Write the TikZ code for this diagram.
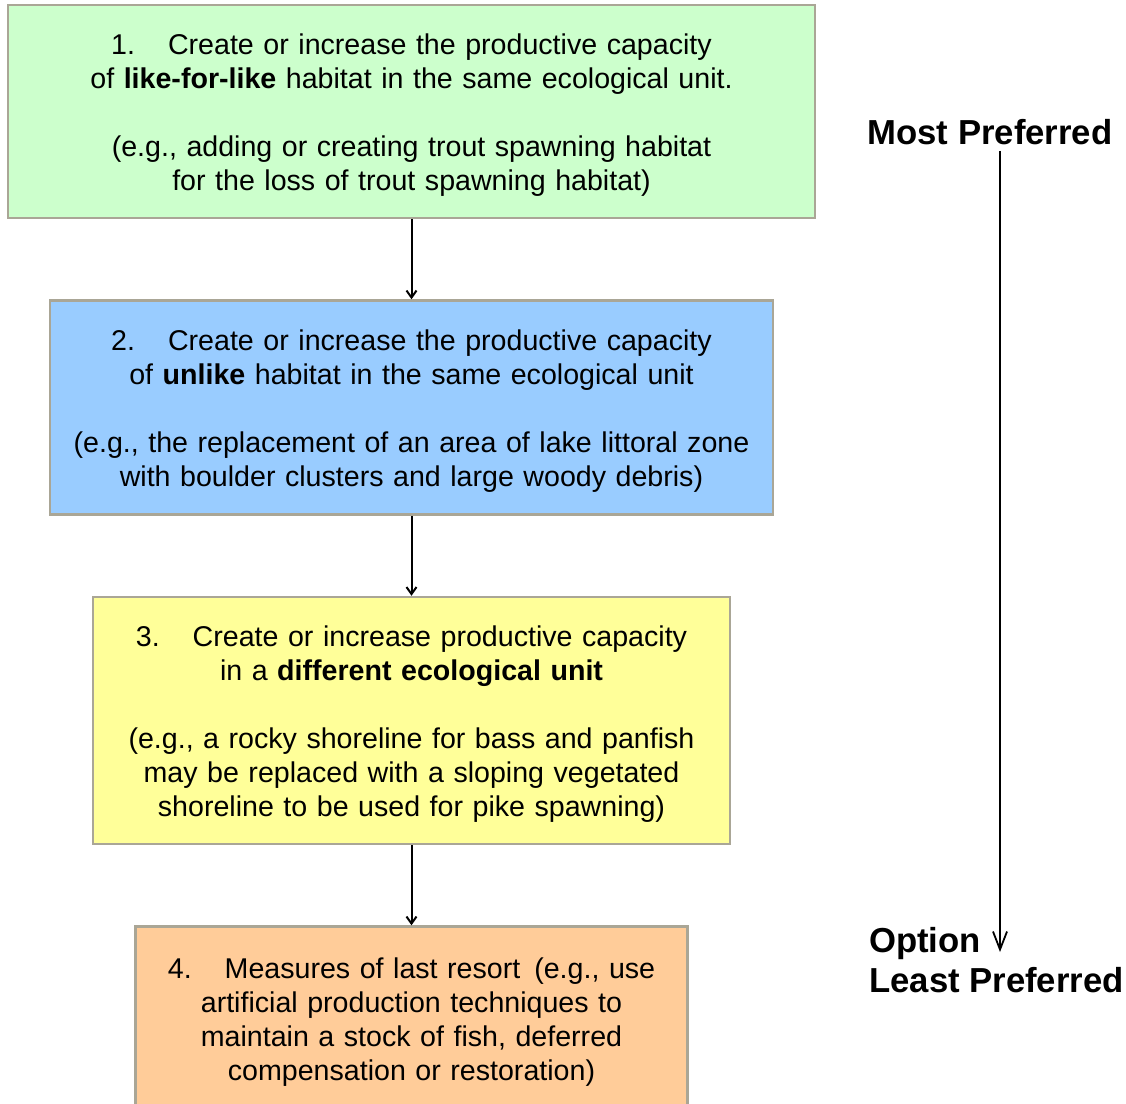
\documentclass[tikz,border=0pt]{standalone}
\usepackage{fontspec}
\setmainfont{Liberation Sans}
\usetikzlibrary{positioning, arrows.meta}

\definecolor{likegreen}{HTML}{CCFFCC}
\definecolor{unlikeblue}{HTML}{99CCFF}
\definecolor{diffyellow}{HTML}{FFFF99}
\definecolor{lastorange}{HTML}{FFCC99}
\definecolor{boxedge}{RGB}{170,166,150}

\begin{document}
\begin{tikzpicture}[x=1pt, y=-1pt, node distance=80pt]

	\tikzstyle{optbox}=[draw=boxedge, line width=2.5pt, inner sep=0pt, align=center,
		font=\fontsize{28.6pt}{34pt}\selectfont]
	\tikzstyle{flow}=[-{Straight Barb[length=7pt, width=10pt]}, line width=2pt]
	\tikzstyle{pref}=[-{Straight Barb[length=18pt, width=14pt]}, line width=1.8pt]
	\tikzstyle{preflabel}=[font=\fontsize{34.7pt}{40pt}\selectfont\bfseries, inner sep=0pt]

	\useasboundingbox (0,0) rectangle (1126,1103);

	\node[optbox, fill=likegreen, text width=807pt, minimum height=213pt] (like) at (411.5,111.5)
		{\rule{0pt}{28pt}1.\hspace{33pt}Create or increase the productive capacity\\
		 of \textbf{like-for-like} habitat in the same ecological unit.\\[34pt]
		 (e.g., adding or creating trout spawning habitat\\
		 for the loss of trout spawning habitat)};

	\node[optbox, fill=unlikeblue, text width=723pt, minimum height=214pt, below=of like] (unlike)
		{\rule{0pt}{28pt}2.\hspace{33pt}Create or increase the productive capacity\\
		 of \textbf{unlike} habitat in the same ecological unit\\[34pt]
		 (e.g., the replacement of an area of lake littoral zone\\
		 with boulder clusters and large woody debris)};

	\node[optbox, fill=diffyellow, text width=637pt, minimum height=247pt, below=of unlike] (different)
		{\rule{0pt}{28pt}3.\hspace{33pt}Create or increase productive capacity\\
		 in a \textbf{different ecological unit}\\[34pt]
		 (e.g., a rocky shoreline for bass and panfish\\
		 may be replaced with a sloping vegetated\\
		 shoreline to be used for pike spawning)};

	\node[optbox, fill=lastorange, text width=552pt, minimum height=184pt, below=of different] (lastresort)
		{\rule{0pt}{28pt}4.\hspace{33pt}Measures of last resort\hspace{14pt}(e.g., use\\
		 artificial production techniques to\\
		 maintain a stock of fish, deferred\\
		 compensation or restoration)};

	\draw[flow] (like) -- (unlike);
	\draw[flow] (unlike) -- (different);
	\draw[flow] (different) -- (lastresort);

	% preference scale
	\node[preflabel] (most) at (990,132) {Most Preferred};
	\node[preflabel, anchor=west, align=left] (least) at (869,960) {Option\\Least Preferred};
	\coordinate (prefend) at (1000,952);

	\draw[pref] (most.south -| prefend) ++(0,6) -- (prefend);

\end{tikzpicture}
\end{document}
